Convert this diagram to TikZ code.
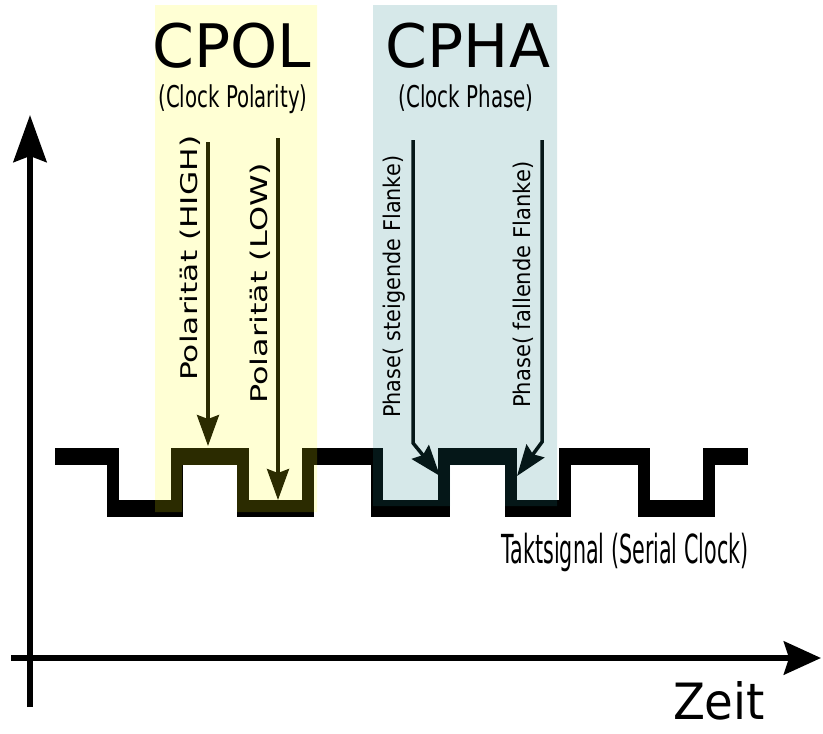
\documentclass[tikz,border=0pt]{standalone}
\usepackage{fontspec}
\setmainfont{DejaVu Sans}
\usepackage{graphicx}
\usetikzlibrary{arrows.meta}
\definecolor{polbox}{RGB}{255,255,0}
\definecolor{phabox}{RGB}{30,130,135}

\begin{document}
\begin{tikzpicture}[x=1pt,y=-1pt,
  txt/.style={inner sep=0pt,anchor=base},
  side/.style={inner sep=0pt,anchor=base west,rotate=90,font=\fontsize{23}{23}\selectfont},
  pin/.style={-{Stealth[length=31pt,width=22pt,inset=4pt]},line width=3.5pt},
  axis/.style={line width=6pt}]
  \useasboundingbox (0,0) rectangle (823,734);
  \def\fitw#1#2{\resizebox{#1}{\height}{#2}}
  % axes
  \coordinate (y0) at (30,707);
  \coordinate (y1) at (30,115);
  \coordinate (x0) at (11,658);
  \coordinate (x1) at (821,658);
  \draw[axis,-{Stealth[length=47pt,width=33pt,inset=6pt]}] (y0) -- (y1);
  \draw[axis,-{Stealth[length=37pt,width=33pt,inset=5pt]}] (x0) -- (x1);
  % clock signal
  \foreach \a/\b/\y in {61/113/456.5,113/177/508,177/243/456.5,243/308/508,
      308/377/456.5,377/444/508,444/511/456.5,511/565/508,565/644/456.5,
      644/709/508,709/742/456.5}
    \fill (\a-6,\y-8.5) rectangle (\b+6,\y+8.5);
  \foreach \e in {113,177,243,308,377,444,511,565,644,709}
    \fill (\e-6,448) rectangle (\e+6,517);
  % pointers
  \coordinate (a1) at (208,142);  \coordinate (t1) at (208,446);
  \coordinate (a2) at (278,138);  \coordinate (t2) at (278,500);
  \coordinate (a3) at (413,140);  \coordinate (b3) at (413,443);
  \coordinate (t3) at (440,476);
  \coordinate (a4) at (542,140);  \coordinate (b4) at (542,442);
  \coordinate (t4) at (517,476);
  \draw[pin] (a1) -- (t1);
  \draw[pin] (a2) -- (t2);
  \draw[pin] (a3) -- (b3) -- (t3);
  \draw[pin] (a4) -- (b4) -- (t4);
  % shaded columns
  \fill[polbox,opacity=0.17] (155,5) -- (317,5) -- (317,512) -- (237,512)
    -- (237,465) -- (182,465) -- (182,512) -- (155,512) -- cycle;
  \fill[phabox,opacity=0.18] (373,5) -- (557,5) -- (557,506) -- (505,506)
    -- (505,465) -- (450,465) -- (450,506) -- (373,506) -- cycle;
  % labels
  \node[txt,font=\fontsize{60}{60}\selectfont] (cpol) at (232,67) {CPOL};
  \node[txt,font=\fontsize{30}{30}\selectfont] (cpolsub) at (233,107)
    {\fitw{149pt}{(Clock Polarity)}};
  \node[txt,font=\fontsize{60}{60}\selectfont] (cpha) at (468,67) {CPHA};
  \node[txt,font=\fontsize{30}{30}\selectfont] (cphasub) at (466,107)
    {\fitw{135pt}{(Clock Phase)}};
  \node[side] (high) at (197,381) {\fitw{245pt}{Polarität (HIGH)}};
  \node[side] (low) at (267,404) {\fitw{241pt}{Polarität (LOW)}};
  \node[side] (rise) at (400,418) {\fitw{262pt}{Phase( steigende Flanke)}};
  \node[side] (fall) at (530,408) {\fitw{246pt}{Phase( fallende Flanke)}};
  \node[txt,font=\fontsize{40}{40}\selectfont] (takt) at (625,563)
    {\fitw{247pt}{Taktsignal (Serial Clock)}};
  \node[txt,text depth=0pt,font=\fontsize{50}{50}\selectfont] (zeit) at (719,719)
    {\fitw{92pt}{Zeit}};
\end{tikzpicture}
\end{document}
